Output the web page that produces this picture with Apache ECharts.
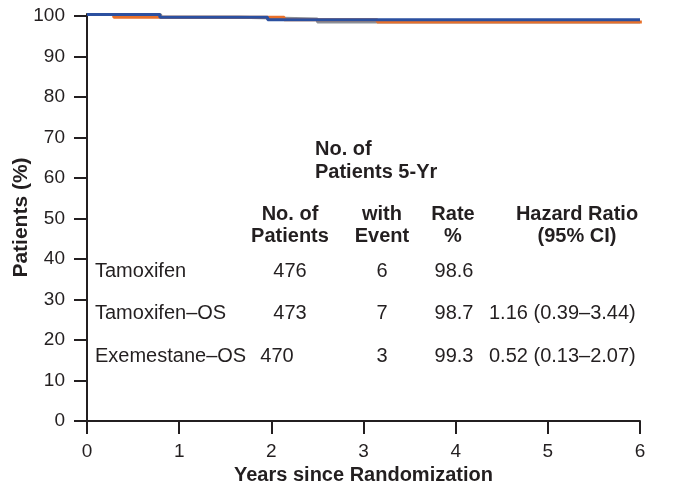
<!DOCTYPE html>
<html>
<head>
<meta charset="utf-8">
<script src="https://cdn.jsdelivr.net/npm/echarts@6/dist/echarts.min.js"></script>
<style>
  html, body { margin: 0; padding: 0; background: #fff; }
  #chart { width: 673px; height: 482px; }
</style>
</head>
<body>
<div id="chart"></div>
<script>
// Kaplan-Meier steps [year, %]
var tamoxifen = [[0, 100.4], [0.8, 99.7], [1.65, 99.25], [2.5, 98.5], [6, 98.5]];
var tamoxifenOS = [[0, 100.4], [0.29, 99.7], [2.14, 99.1], [3.15, 98.5], [6.02, 98.5]];
var exemestaneOS = [[0, 100.4], [0.79, 99.7], [1.96, 99.1], [6, 99.1]];

var yTicks = [0, 10, 20, 30, 40, 50, 60, 70, 80, 90, 100];

// table
var groups = ["Tamoxifen", "Tamoxifen\u2013OS", "Exemestane\u2013OS"];
var nPatients = ["476", "473", "470"];
var nEvents = ["6", "7", "3"];
var rate5yr = ["98.6", "98.7", "99.3"];
var hazard = ["", "1.16 (0.39\u20133.44)", "0.52 (0.13\u20132.07)"];

var chart = echarts.init(document.getElementById("chart"));

var font = "Liberation Sans, Arial, Helvetica, sans-serif";
var txtColor = "#231f20";

function txt(x, y, s, align, bold, size) {
  return {
    type: "text",
    x: x, y: y,
    style: {
      text: s,
      font: (bold ? "bold " : "") + (size || 20) + "px " + font,
      fill: txtColor,
      align: align || "left",
      verticalAlign: "middle"
    }
  };
}

var graphics = [
  txt(315, 149, "No. of", "left", true),
  txt(315, 172, "Patients 5-Yr", "left", true),
  txt(290, 214, "No. of", "center", true),
  txt(290, 236, "Patients", "center", true),
  txt(382, 214, "with", "center", true),
  txt(382, 236, "Event", "center", true),
  txt(453, 214, "Rate", "center", true),
  txt(453, 236, "%", "center", true),
  txt(577, 214, "Hazard Ratio", "center", true),
  txt(577, 236, "(95% CI)", "center", true)
];
var rowY = [271, 313, 356];
var nX = [290, 290, 277];
groups.forEach(function (g, i) {
  graphics.push(txt(95, rowY[i], g, "left"));
  graphics.push(txt(nX[i], rowY[i], nPatients[i], "center"));
  graphics.push(txt(382, rowY[i], nEvents[i], "center"));
  graphics.push(txt(454, rowY[i], rate5yr[i], "center"));
  if (hazard[i]) graphics.push(txt(489, rowY[i], hazard[i], "left"));
});

chart.setOption({
  animation: false,
  grid: { left: 87, right: 33, top: 14, bottom: 61, containLabel: false, outerBoundsMode: "none" },
  xAxis: {
    type: "value", min: 0, max: 6, interval: 1,
    name: "Years since Randomization", nameLocation: "middle", nameGap: 43,
    nameTextStyle: { color: txtColor, fontSize: 20, fontWeight: "bold", fontFamily: font },
    axisLine: { lineStyle: { color: txtColor, width: 2 } },
    axisTick: { length: 13, lineStyle: { color: txtColor, width: 2 } },
    axisLabel: { color: txtColor, fontSize: 19, fontFamily: font, margin: 21 },
    splitLine: { show: false }
  },
  yAxis: {
    type: "value", min: 0, max: 100.5,
    name: "Patients (%)", nameLocation: "middle", nameGap: 55, nameMoveOverlap: false,
    nameTextStyle: { color: txtColor, fontSize: 21, fontWeight: "bold", fontFamily: font },
    axisLine: { show: true, lineStyle: { color: txtColor, width: 2 } },
    axisTick: { show: true, length: 13, customValues: yTicks, lineStyle: { color: txtColor, width: 2 } },
    axisLabel: { color: txtColor, fontSize: 19, fontFamily: font, margin: 22, customValues: yTicks },
    splitLine: { show: false }
  },
  series: [
    { name: "Tamoxifen", type: "line", step: "end", data: tamoxifen, showSymbol: false,
      lineStyle: { color: "#8c8f96", width: 3 } },
    { name: "Tamoxifen\u2013OS", type: "line", step: "end", data: tamoxifenOS, showSymbol: false,
      lineStyle: { color: "#e8702a", width: 3 } },
    { name: "Exemestane\u2013OS", type: "line", step: "end", data: exemestaneOS, showSymbol: false,
      lineStyle: { color: "#2b50a0", width: 3 } }
  ],
  graphic: graphics
});
</script>
</body>
</html>
